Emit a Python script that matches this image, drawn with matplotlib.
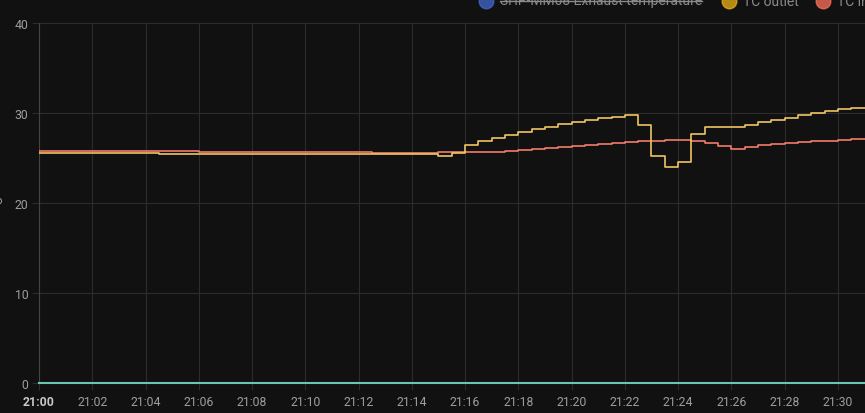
import matplotlib
matplotlib.use("Agg")
import matplotlib.pyplot as plt
from matplotlib.lines import Line2D

# minutes after 21:00 where each step begins, and the value held from there
outlet_t = [0, 4.5, 15.0, 15.5, 16.0, 16.5, 17.0, 17.5, 18.0, 18.5, 19.0, 19.5,
            20.0, 20.5, 21.0, 21.5, 22.0, 22.5, 23.0, 23.5, 24.0, 24.5, 25.0,
            26.5, 27.0, 27.5, 28.0, 28.5, 29.0, 29.5, 30.0, 30.5, 31.1]
outlet_v = [25.55, 25.45, 25.2, 25.6, 26.5, 26.85, 27.25, 27.6, 27.85, 28.2,
            28.5, 28.8, 29.0, 29.2, 29.4, 29.55, 29.75, 28.7, 25.25, 24.0, 24.6,
            27.7, 28.4, 28.65, 28.95, 29.25, 29.5, 29.8, 30.0, 30.2, 30.4, 30.55,
            30.55]

inlet_t = [0, 6.0, 12.5, 15.0, 17.5, 18.0, 18.5, 19.0, 19.5, 20.0, 20.5, 21.0,
           21.5, 22.0, 22.5, 23.0, 23.5, 24.0, 24.5, 25.0, 25.5, 26.0, 26.5,
           27.0, 27.5, 28.0, 28.5, 29.0, 29.5, 30.0, 30.5, 31.1]
inlet_v = [25.8, 25.7, 25.6, 25.7, 25.8, 25.9, 26.0, 26.1, 26.2, 26.33, 26.45,
           26.55, 26.63, 26.74, 26.85, 26.92, 27.0, 26.95, 26.85, 26.7, 26.3,
           26.05, 26.2, 26.4, 26.55, 26.67, 26.75, 26.85, 26.93, 27.04, 27.1,
           27.1]

zero_t = [0, 31.1]
zero_v = [0, 0]

x_ticks = list(range(0, 31, 2))
x_labels = ["21:%02d" % m for m in x_ticks]
y_ticks = [0, 10, 20, 30, 40]

legend_names = ["SHP-MM08 Exhaust temperature", "TC outlet", "TC inlet"]
legend_colors = ["#4269d0", "#efb118", "#ff725c"]

bg = "#111111"
grid = "#2c2c2c"
text_col = "#9e9e9e"

plt.rcParams['font.family'] = ['Roboto', 'DejaVu Sans']

fig = plt.figure(figsize=(8.65, 4.14), dpi=100, facecolor=bg)
W, H = 865, 414
ax = fig.add_axes([39 / W, 30 / H, (W - 39) / W, 360 / H], facecolor=bg)

ax.step(zero_t, zero_v, where='post', color="#6cc5b0", lw=1.5, clip_on=False, zorder=3)
ax.step(inlet_t, inlet_v, where='post', color="#f27b6a", lw=1.2, zorder=3)
ax.step(outlet_t, outlet_v, where='post', color="#f0c562", lw=1.2, zorder=4)

ax.set_xlim(0, (W - 39) / 26.63)
ax.set_ylim(0, 40)
ax.set_xticks(x_ticks)
ax.set_xticklabels(x_labels)
ax.set_yticks(y_ticks)
ax.grid(True, color=grid, lw=0.8)
ax.set_axisbelow(True)
for s in ['top', 'right', 'bottom']:
    ax.spines[s].set_visible(False)
ax.spines['left'].set_color("#444444")
ax.spines['left'].set_linewidth(0.8)
ax.tick_params(axis='both', colors=grid, labelcolor=text_col, labelsize=8.8,
               length=5, width=0.8)
ax.tick_params(axis='x', pad=4)
ax.tick_params(axis='y', pad=2.5)
first = ax.get_xticklabels()[0]
first.set_fontweight('bold')
first.set_color("#c8c8c8")

fig.text(-1.5 / W, 1 - 202 / H, "°C", rotation=90, color=text_col,
         fontsize=9, ha='center', va='center')

# legend across the top, partly cut off like the original
lx = [486, 729, 823]
for i, (name, c) in enumerate(zip(legend_names, legend_colors)):
    x = lx[i] / W
    y = 1 - 1.5 / H
    fig.add_artist(Line2D([x], [y], marker='o', ms=10.5, color=c, alpha=0.75,
                          markeredgecolor=c, transform=fig.transFigure))
    t = fig.text((lx[i] + 14) / W, 1 - 5.5 / H, name, color="#8a8a8a",
                 fontsize=10, ha='left', va='baseline')
    if i == 0:
        fig.canvas.draw()
        bb = t.get_window_extent()
        fig.add_artist(Line2D([bb.x0 / W, bb.x1 / W], [y, y], color="#8a8a8a",
                              lw=1, transform=fig.transFigure))

fig.savefig("out.png", dpi=100, facecolor=bg)
